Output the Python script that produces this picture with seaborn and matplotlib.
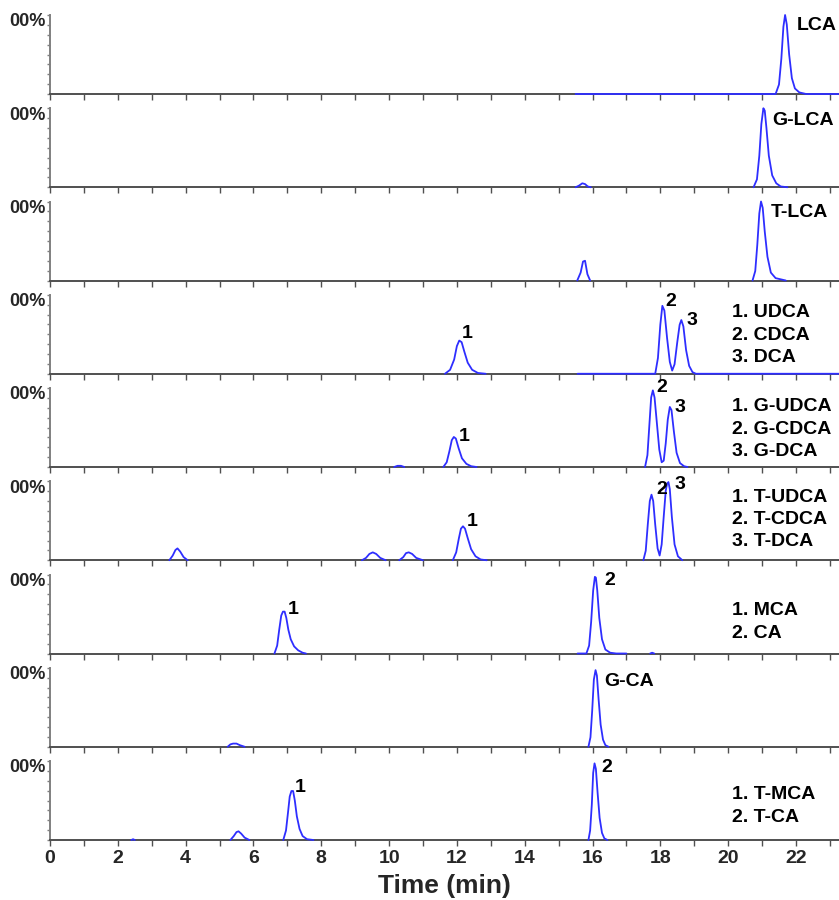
import matplotlib
matplotlib.use("Agg")
import matplotlib.pyplot as plt
from matplotlib.ticker import MultipleLocator
import pandas as pd
import seaborn as sns

sns.set_theme(style="white")
plt.rcParams["font.family"] = ["Liberation Sans", "DejaVu Sans"]
plt.rcParams["font.weight"] = "bold"

# x axis (retention time, min)
X_MAX = 23.27
X_TICKS = [0, 2, 4, 6, 8, 10, 12, 14, 16, 18, 20, 22]

# each trace is a list of (time, relative intensity %) segments
lca_trace = [
    ([15.5, 21.40, 21.50, 21.57, 21.63, 21.68, 21.73, 21.80, 21.88, 21.97, 22.10, 22.30, 23.3],
     [0, 0, 12, 45, 85, 100, 88, 50, 20, 7, 2, 0, 0]),
]
glca_trace = [
    ([15.50, 15.60, 15.70, 15.78, 15.86, 15.95], [0, 2, 5, 4, 1, 0]),
    ([20.75, 20.85, 20.92, 20.98, 21.04, 21.08, 21.13, 21.20, 21.30, 21.42, 21.55, 21.75],
     [0, 10, 40, 80, 100, 97, 75, 40, 15, 5, 1, 0]),
]
tlca_trace = [
    ([15.55, 15.65, 15.72, 15.78, 15.85, 15.93], [0, 10, 24, 25, 8, 0]),
    ([20.72, 20.80, 20.86, 20.92, 20.97, 21.02, 21.08, 21.16, 21.26, 21.40, 21.70],
     [0, 12, 45, 85, 100, 92, 62, 30, 10, 3, 0]),
]
udca_trace = [
    ([11.65, 11.80, 11.92, 12.00, 12.07, 12.14, 12.22, 12.32, 12.45, 12.62, 12.85],
     [0, 5, 18, 35, 42, 40, 28, 14, 5, 1, 0]),
    ([15.56, 17.85, 17.93, 18.00, 18.06, 18.12, 18.20, 18.28, 18.35, 18.42, 18.50, 18.57,
      18.62, 18.68, 18.76, 18.85, 18.95, 19.05, 23.3],
     [0, 0, 20, 62, 86, 80, 45, 15, 4, 12, 40, 62, 68, 60, 30, 10, 2, 0, 0]),
]
gudca_trace = [
    ([10.15, 10.25, 10.35, 10.45], [0, 1.5, 1.5, 0]),
    ([11.60, 11.70, 11.78, 11.85, 11.91, 11.97, 12.05, 12.15, 12.28, 12.42, 12.58],
     [0, 6, 20, 34, 38, 36, 24, 11, 4, 1, 0]),
    ([17.55, 17.62, 17.68, 17.73, 17.78, 17.83, 17.90, 17.97, 18.04, 18.10, 18.16, 18.22,
      18.28, 18.33, 18.40, 18.48, 18.58, 18.70, 18.80],
     [0, 15, 55, 88, 97, 88, 55, 22, 6, 8, 30, 60, 76, 72, 45, 18, 5, 1, 0]),
]
tudca_trace = [
    ([3.52, 3.62, 3.70, 3.76, 3.84, 3.94, 4.06], [0, 6, 13, 15, 11, 4, 0]),
    ([9.20, 9.32, 9.42, 9.52, 9.62, 9.74, 9.90], [0, 3, 8, 10, 8, 3, 0]),
    ([10.30, 10.42, 10.50, 10.58, 10.68, 10.80, 11.00], [0, 4, 9, 10, 8, 3, 0]),
    ([11.88, 11.98, 12.06, 12.12, 12.18, 12.24, 12.32, 12.42, 12.55, 12.70, 12.88],
     [0, 10, 28, 40, 43, 40, 28, 14, 5, 1, 0]),
    ([17.50, 17.57, 17.63, 17.69, 17.74, 17.79, 17.85, 17.92, 17.98, 18.04, 18.10, 18.16,
      18.20, 18.24, 18.28, 18.34, 18.42, 18.52, 18.65],
     [0, 12, 45, 75, 83, 75, 45, 15, 6, 20, 55, 88, 97, 99, 90, 55, 20, 5, 0]),
]
mca_trace = [
    ([6.62, 6.70, 6.76, 6.82, 6.87, 6.92, 6.97, 7.03, 7.10, 7.20, 7.32, 7.45, 7.55],
     [0, 10, 30, 48, 53, 53, 45, 30, 18, 9, 4, 1, 0]),
    ([15.56, 15.82, 15.90, 15.96, 16.02, 16.07, 16.10, 16.14, 16.20, 16.28, 16.38, 16.52, 16.70, 17.00],
     [0, 0, 10, 40, 80, 97, 96, 80, 45, 18, 5, 1, 0, 0]),
    ([17.70, 17.76, 17.82], [0, 1, 0]),
]
gca_trace = [
    ([5.24, 5.32, 5.40, 5.50, 5.60, 5.74], [0, 3, 4, 4, 2, 0]),
    ([15.88, 15.94, 15.99, 16.04, 16.09, 16.13, 16.18, 16.24, 16.31, 16.38, 16.47],
     [0, 12, 45, 85, 97, 90, 60, 28, 9, 2, 0]),
]
tmca_trace = [
    ([2.40, 2.45, 2.50], [0, 1, 0]),
    ([5.32, 5.42, 5.50, 5.56, 5.64, 5.74, 5.88], [0, 5, 10, 11, 8, 3, 0]),
    ([6.88, 6.96, 7.02, 7.07, 7.12, 7.17, 7.22, 7.28, 7.36, 7.45, 7.58, 7.77],
     [0, 12, 35, 55, 62, 62, 50, 30, 14, 5, 1, 0]),
    ([15.88, 15.93, 15.98, 16.02, 16.06, 16.10, 16.15, 16.21, 16.28, 16.35, 16.44],
     [0, 12, 45, 85, 97, 90, 60, 28, 9, 2, 0]),
]

# annotations: (time, intensity %, text)
lca_labels = [(22.03, 87, "LCA")]
glca_labels = [(21.30, 84, "G-LCA")]
tlca_labels = [(21.26, 86, "T-LCA")]
udca_labels = [(12.15, 51, "1"), (18.15, 92, "2"), (18.76, 68, "3"),
               (20.12, 78, "1. UDCA"), (20.12, 49, "2. CDCA"), (20.12, 21, "3. DCA")]
gudca_labels = [(12.06, 39, "1"), (17.88, 100, "2"), (18.41, 75, "3"),
                (20.12, 76, "1. G-UDCA"), (20.12, 48, "2. G-CDCA"), (20.12, 20, "3. G-DCA")]
tudca_labels = [(12.30, 49, "1"), (17.88, 90, "2"), (18.41, 96, "3"),
                (20.12, 80, "1. T-UDCA"), (20.12, 52, "2. T-CDCA"), (20.12, 24, "3. T-DCA")]
mca_labels = [(7.00, 56, "1"), (16.35, 92, "2"),
              (20.12, 54, "1. MCA"), (20.12, 25, "2. CA")]
gca_labels = [(16.35, 82, "G-CA")]
tmca_labels = [(7.22, 67, "1"), (16.26, 92, "2"),
               (20.12, 58, "1. T-MCA"), (20.12, 29, "2. T-CA")]

traces = [lca_trace, glca_trace, tlca_trace, udca_trace, gudca_trace,
          tudca_trace, mca_trace, gca_trace, tmca_trace]
labels = [lca_labels, glca_labels, tlca_labels, udca_labels, gudca_labels,
          tudca_labels, mca_labels, gca_labels, tmca_labels]

W, H = 839, 900
fig = plt.figure(figsize=(W / 100, H / 100), dpi=100)

LINE_COLOR = "#2e2eff"
left_px, top_base, step, ax_h = 50, 94, 93.25, 79

for i, (trace, labs) in enumerate(zip(traces, labels)):
    base = top_base + step * i
    ax = fig.add_axes([left_px / W, 1 - base / H, (W - left_px) / W, ax_h / H])

    rows = []
    for k, (t, y) in enumerate(trace):
        rows += [{"seg": k, "time": tt, "intensity": yy} for tt, yy in zip(t, y)]
    df = pd.DataFrame(rows)
    sns.lineplot(data=df, x="time", y="intensity", units="seg", estimator=None,
                 color=LINE_COLOR, lw=1.3, ax=ax, sort=False)
    for ln in ax.lines:
        ln.set_clip_on(False)
        ln.set_zorder(5)

    ax.set_xlim(0, X_MAX)
    ax.set_ylim(0, 100)
    ax.set_xlabel("")
    ax.set_ylabel("")
    ax.set_facecolor("none")
    for s in ["top", "right"]:
        ax.spines[s].set_visible(False)
    ax.spines["left"].set_color("#808080")
    ax.spines["left"].set_linewidth(1.4)
    ax.spines["bottom"].set_color("#505050")
    ax.spines["bottom"].set_linewidth(1.4)

    ax.xaxis.set_major_locator(MultipleLocator(2))
    ax.xaxis.set_minor_locator(MultipleLocator(1))
    ax.yaxis.set_major_locator(MultipleLocator(50))
    ax.yaxis.set_minor_locator(MultipleLocator(12.5))
    ax.tick_params(axis="x", which="both", direction="out", length=4, width=1,
                   color="#505050", bottom=True)
    ax.tick_params(axis="y", which="both", direction="out", length=2.5, width=1,
                   color="#808080", left=True, labelleft=False)

    if i == len(traces) - 1:
        ax.set_xticks(X_TICKS)
        ax.set_xticklabels([str(v) for v in X_TICKS], fontsize=14, fontweight="bold")
        ax.tick_params(axis="x", pad=3)
        ax.set_xlabel("Time (min)", fontsize=19, fontweight="bold", labelpad=5)
    else:
        ax.tick_params(axis="x", labelbottom=False)

    ax.text(-0.005, 1.02, "00%", transform=ax.transAxes, ha="right", va="top",
            fontsize=13, fontweight="bold")

    for t, y, s in labs:
        ax.text(t, y, s, ha="left", va="center", fontsize=14, fontweight="bold",
                color="black", zorder=6)

fig.savefig("out.png", dpi=100)
